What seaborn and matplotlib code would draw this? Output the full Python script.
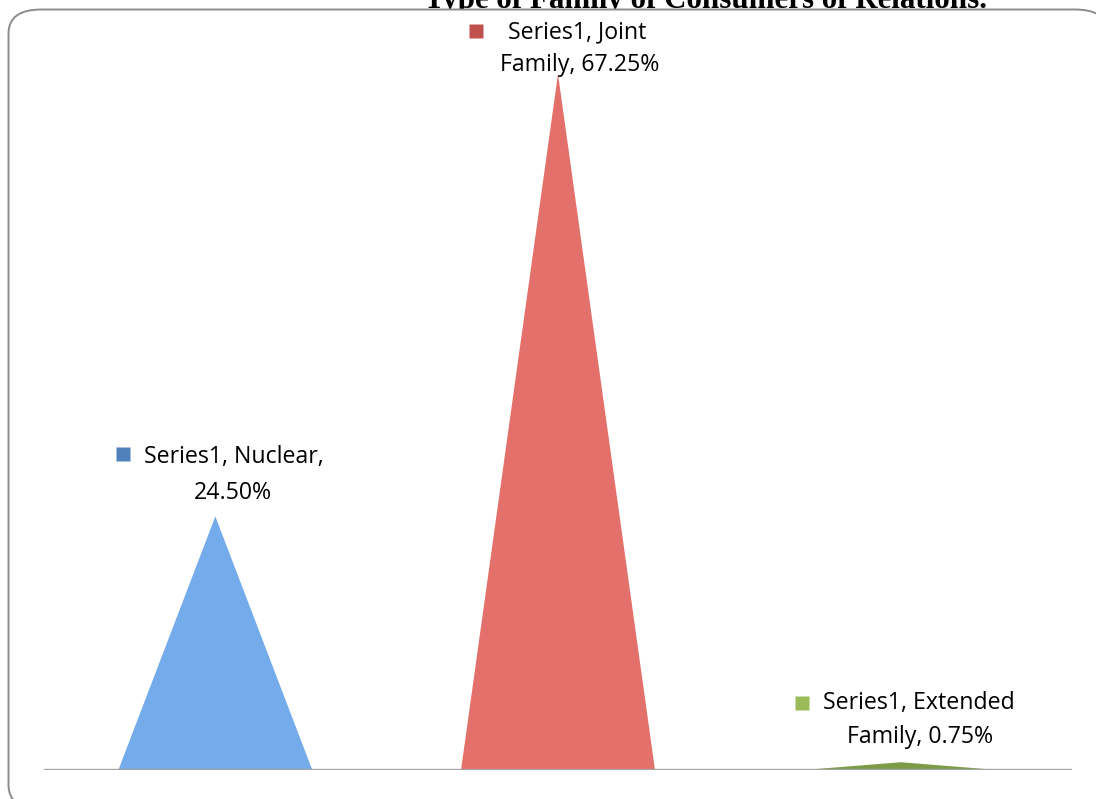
import matplotlib
matplotlib.use("Agg")
import matplotlib.pyplot as plt
from matplotlib.patches import FancyBboxPatch
from matplotlib.transforms import offset_copy
import seaborn as sns

# Share of respondents by family type
categories = ["Nuclear", "Joint Family", "Extended Family"]
values = [24.50, 67.25, 0.75]
series_name = "Series1"
title = "Type of Family of Consumers of Relations."

fill_colors = ["#74ABEA", "#E4706B", "#7D9B47"]
marker_colors = ["#4F81BD", "#C0504D", "#9BBB59"]

# label pieces: first line, second line
label_lines = [
    (f"{series_name}, Nuclear,", f"{values[0]:.2f}%"),
    (f"{series_name}, Joint", f"Family, {values[1]:.2f}%"),
    (f"{series_name}, Extended", f"Family, {values[2]:.2f}%"),
]
# pixel offsets from each apex: (line1, line2, marker)
label_offsets = [
    ((19, 59), (18, 23), (-92.5, 62.5)),
    ((19.5, 42), (21.5, 9), (-82, 43)),
    ((18, 59), (19, 25), (-98.5, 59)),
]

sns.set_theme(style="white")
plt.rcParams["font.family"] = ["Open Sans", "DejaVu Sans"]

W, H = 1096, 799
fig = plt.figure(figsize=(W / 100, H / 100), dpi=100)
fig.patch.set_facecolor("white")

# Title sits above the chart frame
fig.text(705 / W, 1 - 8 / H, title, ha="center", va="baseline",
         fontsize=22.3, fontweight="bold", family="Liberation Serif",
         color="black", zorder=-2)

# Rounded chart frame (runs past the right and bottom edges)
frame = FancyBboxPatch((8.5 / W, -10 / H), (1108 - 8.5) / W, (H - 9.5 + 10) / H,
                       boxstyle="round,pad=0,rounding_size=0.03",
                       transform=fig.transFigure, facecolor="white",
                       edgecolor="#8C8C8C", linewidth=1.4, zorder=-1)
fig.patches.append(frame)

ax = fig.add_axes([44 / W, (H - 770) / H, (1072 - 44) / W, 724.5 / H])
ax.set_facecolor("none")
ax.patch.set_alpha(0)
ax.set_zorder(0)

half = 0.283
for i, (v, c) in enumerate(zip(values, fill_colors)):
    ax.fill([i - half, i, i + half], [0, v, 0], color=c, linewidth=0, zorder=2)

ax.axhline(0, color="#A3A3A3", lw=2.4, zorder=3)

ax.set_xlim(-0.5, 2.5)
ax.set_ylim(0, 70)
ax.set_xticks([])
ax.set_yticks([])
for s in ax.spines.values():
    s.set_visible(False)

for i, v in enumerate(values):
    (l1, l2), (o1, o2, om) = label_lines[i], label_offsets[i]
    ax.annotate(l1, xy=(i, v), xytext=o1, textcoords="offset pixels",
                ha="center", va="center", fontsize=16.7, color="black",
                annotation_clip=False)
    ax.annotate(l2, xy=(i, v), xytext=o2, textcoords="offset pixels",
                ha="center", va="center", fontsize=16.7, color="black",
                annotation_clip=False)
    tr = offset_copy(ax.transData, fig=fig, x=om[0], y=om[1], units="dots")
    ax.plot([i], [v], marker="s", ms=9.5, color=marker_colors[i],
            mec="none", transform=tr, clip_on=False, zorder=4)

fig.savefig("out.png", dpi=100)
